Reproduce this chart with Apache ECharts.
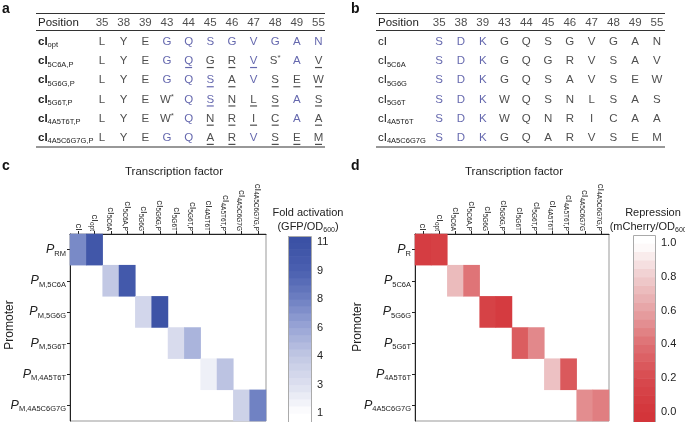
<!DOCTYPE html>
<html><head><meta charset="utf-8">
<script src="https://cdn.jsdelivr.net/npm/echarts@6/dist/echarts.min.js"></script>
<style>html,body{margin:0;padding:0;background:#fff}#c{width:685px;height:422px}</style>
</head><body><div id="c"></div>
<script>
// ---------- data ----------
const positions = ['35','38','39','43','44','45','46','47','48','49','55'];

const rowsA = ['cI_opt','cI_5C6A,P','cI_5G6G,P','cI_5G6T,P','cI_4A5T6T,P','cI_4A5C6G7G,P'];
const lettersA = [
  ['L','Y','E','G','Q','S','G','V','G','A','N'],
  ['L','Y','E','G','Q','G','R','V','S*','A','V'],
  ['L','Y','E','G','Q','S','A','V','S','E','W'],
  ['L','Y','E','W*','Q','S','N','L','S','A','S'],
  ['L','Y','E','W*','Q','N','R','I','C','A','A'],
  ['L','Y','E','G','Q','A','R','V','S','E','M']
];
const blueA = ['00011111111','00011001010','00011101000','00001100010','00001000010','00011001000'];
const underlineA = ['00000000000','00001111001','00000110111','00000111101','00000111101','00000110111'];

const rowsB = ['cI','cI_5C6A','cI_5G6G','cI_5G6T','cI_4A5T6T','cI_4A5C6G7G'];
const lettersB = [
  ['S','D','K','G','Q','S','G','V','G','A','N'],
  ['S','D','K','G','Q','G','R','V','S','A','V'],
  ['S','D','K','G','Q','S','A','V','S','E','W'],
  ['S','D','K','W','Q','S','N','L','S','A','S'],
  ['S','D','K','W','Q','N','R','I','C','A','A'],
  ['S','D','K','G','Q','A','R','V','S','E','M']
];
const blueB = ['11100000000','11100000000','11100000000','11100000000','11100000000','11100000000'];

const tfNames = ['cI','cI_opt','cI_5C6A','cI_5C6A,P','cI_5G6G','cI_5G6G,P','cI_5G6T','cI_5G6T,P','cI_4A5T6T','cI_4A5T6T,P','cI_4A5C6G7G','cI_4A5C6G7G,P'];
const promotersC = ['P_RM','P_M,5C6A','P_M,5G6G','P_M,5G6T','P_M,4A5T6T','P_M,4A5C6G7G'];
const promotersD = ['P_R','P_5C6A','P_5G6G','P_5G6T','P_4A5T6T','P_4A5C6G7G'];

// [transcription factor index, promoter index, value]
const activation = [[0,0,7.5],[1,0,10.2],[2,1,4.0],[3,1,10.0],[4,2,3.4],[5,2,10.8],
                    [6,3,3.2],[7,3,5.2],[8,4,2.0],[9,4,4.3],[10,5,3.6],[11,5,7.9]];
const repression = [[0,0,0.08],[1,0,0.1],[2,1,0.72],[3,1,0.42],[4,2,0.12],[5,2,0.06],
                    [6,3,0.3],[7,3,0.5],[8,4,0.75],[9,4,0.28],[10,5,0.52],[11,5,0.46]];
const activationTicks = [1,3,4,6,8,9,11];
const repressionTicks = [0,0.2,0.4,0.6,0.8,1.0];

// ---------- helpers ----------
const FONT = '"Liberation Sans", Arial, Helvetica, sans-serif';
const BLUE_TXT = '#3f429a';
const BLACK = '#222';

function subRich(name, m, s) {
  const i = name.indexOf('_');
  return i < 0 ? `{${m}|${name}}` : `{${m}|${name.slice(0,i)}}{${s}|${name.slice(i+1)}}`;
}
function letterRich(t) {
  return t.endsWith('*') ? `{L|${t.slice(0,-1)}}{ast|*}` : `{L|${t}}`;
}
function actPos(v) {
  const t = activationTicks;
  for (let i = 0; i < t.length - 1; i++) {
    if (v <= t[i+1]) return i + (v - t[i]) / (t[i+1] - t[i]);
  }
  return t.length - 1;
}

function tableParts(gi, rows, letters, blue, underline, boldRows) {
  const letterData = [], ulData = [];
  positions.forEach((p, ci) => letterData.push({value:[ci, 0], txt:p, label:{color:BLACK}}));
  letters.forEach((row, ri) => row.forEach((t, ci) => {
    const col = blue[ri][ci] === '1' ? BLUE_TXT : BLACK;
    letterData.push({value:[ci, ri+1], txt:t, label:{color:col}});
    if (underline && underline[ri][ci] === '1') ulData.push({value:[ci, ri+1], itemStyle:{color:col}});
  }));
  const yAxis = {
    type:'category', gridIndex:gi, inverse:true, data:['Position'].concat(rows),
    axisLine:{show:false}, axisTick:{show:false}, splitLine:{show:false},
    axisLabel:{inside:true, margin:2, color:BLACK,
      formatter: v => v === 'Position' ? '{n|Position}' : subRich(v, 'm', 's'),
      rich:{
        n:{fontSize:11.5, fontFamily:FONT, color:BLACK, lineHeight:15},
        m:{fontSize:11.5, fontFamily:FONT, color:BLACK, fontWeight: boldRows ? 'bold' : 'normal', lineHeight:15},
        s:{fontSize:7.5, fontFamily:FONT, color:BLACK, verticalAlign:'bottom', lineHeight:8}
      }}
  };
  const series = [
    {type:'scatter', xAxisIndex:gi, yAxisIndex:gi, data:letterData, symbolSize:1, silent:true,
     itemStyle:{color:'rgba(0,0,0,0)'},
     label:{show:true, position:'inside', formatter:p => letterRich(p.data.txt),
       rich:{L:{fontSize:11.5, fontFamily:FONT, lineHeight:14},
             ast:{fontSize:8, fontFamily:FONT, verticalAlign:'top', lineHeight:8}}}},
    {type:'scatter', xAxisIndex:gi, yAxisIndex:gi, data:ulData, symbol:'rect', symbolSize:[7,1.2],
     symbolOffset:[0,6.5], silent:true}
  ];
  return {yAxis, series};
}

// colour-bar bands (legend of the visual scale)
const bandsC = [[-0.3, 0, 0, -1]];
for (let k = 0; k < 24; k++) bandsC.push([k*0.25, k*0.25+0.25, 0, k*0.25+0.125]);
bandsC.push([6, 6.2, 0, 7]);
const bandsD = [[-0.06, 0, -1]];
for (let k = 0; k < 20; k++) bandsD.push([k*0.05, k*0.05+0.05, k*0.05+0.025]);
bandsD.push([1, 1.05, 2]);

function barRender(params, api) {
  const lo = api.value(0), hi = api.value(1);
  const p0 = api.coord([0, hi]), p1 = api.coord([1, lo]);
  return {type:'rect', shape:{x:p0[0], y:p0[1], width:p1[0]-p0[0], height:p1[1]-p0[1]+0.6},
          style:{fill:api.visual('color')}};
}

const tA = tableParts(0, rowsA, lettersA, blueA, underlineA, true);
const tB = tableParts(1, rowsB, lettersB, blueB, null, false);

function heatX(gi) {
  return {type:'category', gridIndex:gi, position:'top', data:tfNames,
    axisLine:{show:true, lineStyle:{color:'#222', width:1}},
    axisTick:{show:true, alignWithLabel:true, length:3, lineStyle:{color:'#222'}},
    splitLine:{show:false},
    axisLabel:{interval:0, rotate:90, margin:3, formatter:v => subRich(v, 'c', 's'),
      rich:{c:{fontSize:9.5, fontFamily:FONT, color:BLACK, lineHeight:12},
            s:{fontSize:6.5, fontFamily:FONT, color:BLACK, verticalAlign:'bottom', lineHeight:7}}}};
}
function heatY(gi, names) {
  return {type:'category', gridIndex:gi, inverse:true, data:names,
    axisLine:{show:true, lineStyle:{color:'#222', width:1}},
    axisTick:{show:true, alignWithLabel:true, length:3, lineStyle:{color:'#222'}},
    splitLine:{show:false},
    axisLabel:{margin:4, formatter:v => subRich(v, 'p', 's'),
      rich:{p:{fontSize:12.5, fontFamily:FONT, fontStyle:'italic', color:BLACK, lineHeight:16},
            s:{fontSize:7.5, fontFamily:FONT, color:BLACK, verticalAlign:'bottom', lineHeight:9}}}};
}

const option = {
  animation:false,
  backgroundColor:'#fff',
  textStyle:{fontFamily:FONT},
  grid:[
    {left:36, top:13, width:289, height:134.5},
    {left:376, top:13, width:289, height:134.5},
    {left:70, top:234, width:196, height:187, show:true, borderColor:'#999', borderWidth:1},
    {left:288, top:242, width:23, height:171},
    {left:415, top:234, width:194, height:187, show:true, borderColor:'#999', borderWidth:1},
    {left:633, top:243, width:22, height:169}
  ],
  xAxis:[
    {type:'value', gridIndex:0, min:-3.05, max:10.3, show:false},
    {type:'value', gridIndex:1, min:-2.9, max:10.37, show:false},
    heatX(2),
    {type:'value', gridIndex:3, min:0, max:1, show:false},
    heatX(4),
    {type:'value', gridIndex:5, min:0, max:1, show:false}
  ],
  yAxis:[
    tA.yAxis, tB.yAxis,
    heatY(2, promotersC),
    {type:'value', gridIndex:3, position:'right', min:0, max:6, interval:1,
     axisLine:{show:false}, splitLine:{show:false},
     axisTick:{show:true, length:4, lineStyle:{color:'#333'}},
     axisLabel:{margin:6, fontSize:11, color:BLACK, fontFamily:FONT, formatter:v => String(activationTicks[v])}},
    heatY(4, promotersD),
    {type:'value', gridIndex:5, position:'right', min:0, max:1, interval:0.2,
     axisLine:{show:false}, splitLine:{show:false},
     axisTick:{show:true, length:4, lineStyle:{color:'#333'}},
     axisLabel:{margin:6, fontSize:11, color:BLACK, fontFamily:FONT, formatter:v => v.toFixed(1)}}
  ],
  visualMap:[
    {type:'continuous', show:false, min:0, max:6, dimension:3, seriesIndex:[4,5],
     inRange:{color:['#ffffff','#dde0ef','#c2c8e4','#9aa6d6','#6e80c2','#4b60b0','#3b51a5']},
     outOfRange:{color:['#ffffff']}},
    {type:'continuous', show:false, min:0, max:1, dimension:2, seriesIndex:[6,7],
     inRange:{color:['#d3353a','#d84a4e','#de6f72','#e6a1a3','#efcccd','#ffffff']},
     outOfRange:{color:['#ffffff']}}
  ],
  series:[
    tA.series[0], tA.series[1], tB.series[0], tB.series[1],
    {type:'heatmap', xAxisIndex:2, yAxisIndex:2, silent:true,
     data: activation.map(d => [d[0], d[1], d[2], actPos(d[2])])},
    {type:'custom', xAxisIndex:3, yAxisIndex:3, clip:false, silent:true, data:bandsC,
     encode:{y:[0,1]}, renderItem:barRender},
    {type:'heatmap', xAxisIndex:4, yAxisIndex:4, silent:true, data: repression},
    {type:'custom', xAxisIndex:5, yAxisIndex:5, clip:false, silent:true, data:bandsD,
     encode:{y:[0,1]}, renderItem:barRender}
  ],
  graphic:[
    // table rules
    {type:'line', shape:{x1:36, y1:13.5, x2:325, y2:13.5}, style:{stroke:'#333', lineWidth:1.2}},
    {type:'line', shape:{x1:36, y1:30.5, x2:325, y2:30.5}, style:{stroke:'#333', lineWidth:1.2}},
    {type:'line', shape:{x1:36, y1:147, x2:325, y2:147}, style:{stroke:'#333', lineWidth:1.2}},
    {type:'line', shape:{x1:376, y1:13.5, x2:665, y2:13.5}, style:{stroke:'#333', lineWidth:1.2}},
    {type:'line', shape:{x1:376, y1:30.5, x2:665, y2:30.5}, style:{stroke:'#333', lineWidth:1.2}},
    {type:'line', shape:{x1:376, y1:147, x2:665, y2:147}, style:{stroke:'#333', lineWidth:1.2}},
    // colour-bar frames
    {type:'rect', shape:{x:288.5, y:236.5, width:23, height:186}, style:{fill:null, stroke:'#aaa', lineWidth:1}, z:10},
    {type:'rect', shape:{x:633.5, y:235.5, width:22, height:187}, style:{fill:null, stroke:'#aaa', lineWidth:1}, z:10},
    // panel letters
    {type:'text', left:2, top:2, style:{text:'a', font:'bold 14px ' + FONT, fill:'#111'}},
    {type:'text', left:351, top:2, style:{text:'b', font:'bold 14px ' + FONT, fill:'#111'}},
    {type:'text', left:2, top:159, style:{text:'c', font:'bold 14px ' + FONT, fill:'#111'}},
    {type:'text', left:351, top:159, style:{text:'d', font:'bold 14px ' + FONT, fill:'#111'}},
    // axis titles
    {type:'text', x:174, y:172, style:{text:'Transcription factor', font:'11.5px ' + FONT, fill:BLACK, align:'center', verticalAlign:'middle'}},
    {type:'text', x:514, y:172, style:{text:'Transcription factor', font:'11.5px ' + FONT, fill:BLACK, align:'center', verticalAlign:'middle'}},
    {type:'text', x:10, y:325, rotation:Math.PI/2, style:{text:'Promoter', font:'12px ' + FONT, fill:BLACK, align:'center', verticalAlign:'middle'}},
    {type:'text', x:358, y:327, rotation:Math.PI/2, style:{text:'Promoter', font:'12px ' + FONT, fill:BLACK, align:'center', verticalAlign:'middle'}},
    // colour-bar titles
    {type:'text', x:308, y:213, style:{text:'Fold activation', font:'11px ' + FONT, fill:BLACK, align:'center', verticalAlign:'middle'}},
    {type:'text', x:308, y:227, style:{text:'{n|(GFP/OD}{s|600}{n|)}', align:'center', verticalAlign:'middle',
      rich:{n:{fontSize:11, fontFamily:FONT, fill:BLACK, lineHeight:14}, s:{fontSize:7, fontFamily:FONT, fill:BLACK, verticalAlign:'bottom', lineHeight:8}}}},
    {type:'text', x:653, y:213, style:{text:'Repression', font:'11px ' + FONT, fill:BLACK, align:'center', verticalAlign:'middle'}},
    {type:'text', x:650, y:227, style:{text:'{n|(mCherry/OD}{s|600}{n|)}', align:'center', verticalAlign:'middle',
      rich:{n:{fontSize:11, fontFamily:FONT, fill:BLACK, lineHeight:14}, s:{fontSize:7, fontFamily:FONT, fill:BLACK, verticalAlign:'bottom', lineHeight:8}}}}
  ]
};

const chart = echarts.init(document.getElementById('c'), null, {renderer:'canvas'});
chart.setOption(option);
</script>
</body></html>
